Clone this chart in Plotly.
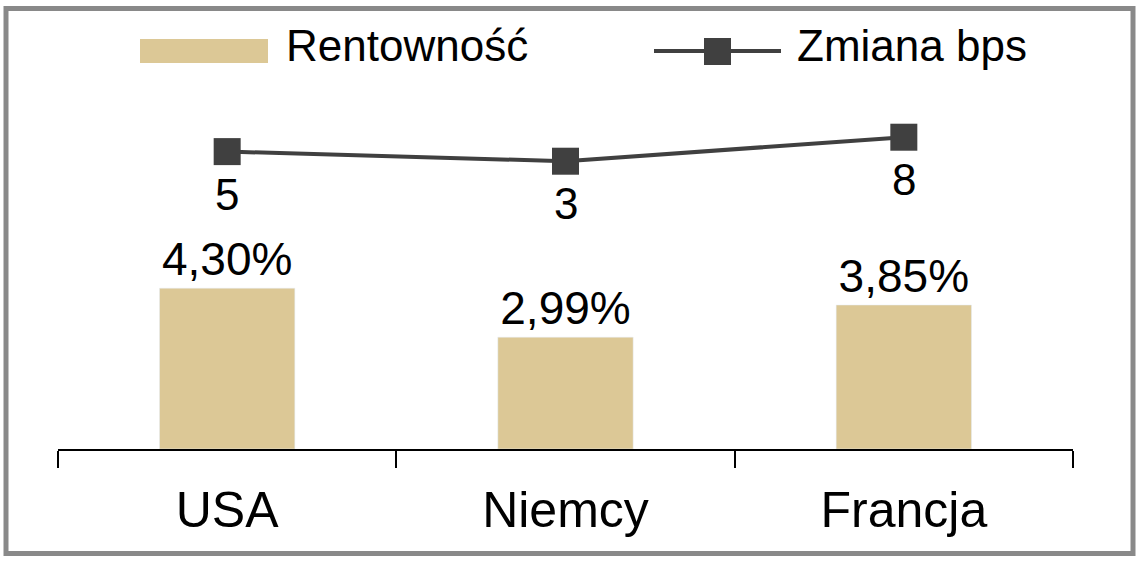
import plotly.graph_objects as go

# data
countries = ["USA", "Niemcy", "Francja"]
yields = [4.30, 2.99, 3.85]
yield_labels = ["4,30%", "2,99%", "3,85%"]
bps_change = [5, 3, 8]

W, H = 1141, 562
# plot area in pixels
L, R, T, B = 58, 1073, 20, 449
FONT = "Liberation Sans, Arial, sans-serif"
BAR_COLOR = "#DCC896"
LINE_COLOR = "#404040"


def px_x(p):
    return (p - L) / (R - L)


def px_y(p):
    return (B - p) / (B - T)


fig = go.Figure()

fig.add_trace(go.Bar(
    x=countries,
    y=yields,
    name="Rentowność",
    marker_color=BAR_COLOR,
    width=0.40,
    text=yield_labels,
    textposition="outside",
    textfont=dict(size=46, color="black", family=FONT),
    cliponaxis=False,
    showlegend=False,
))

fig.add_trace(go.Scatter(
    x=countries,
    y=bps_change,
    name="Zmiana bps",
    yaxis="y2",
    mode="lines+markers",
    line=dict(color=LINE_COLOR, width=4),
    marker=dict(symbol="square", size=27, color=LINE_COLOR),
    cliponaxis=False,
    showlegend=False,
))

# labels under the line markers
annotations = []
for c, v in zip(countries, bps_change):
    annotations.append(dict(
        x=c, y=v, xref="x", yref="y2", text=str(v),
        xanchor="center", yanchor="top", yshift=-16,
        showarrow=False, font=dict(size=44, color="black", family=FONT),
    ))

# hand-drawn legend (plotly's legend symbols are too small)
shapes = [
    # bar swatch
    dict(type="rect", xref="paper", yref="paper",
         x0=px_x(140), x1=px_x(268), y0=px_y(39), y1=px_y(63),
         fillcolor=BAR_COLOR, line_width=0),
    # line sample
    dict(type="line", xref="paper", yref="paper",
         x0=px_x(654), x1=px_x(781), y0=px_y(51), y1=px_y(51),
         line=dict(color=LINE_COLOR, width=4)),
    dict(type="rect", xref="paper", yref="paper",
         x0=px_x(704), x1=px_x(731), y0=px_y(38), y1=px_y(65),
         fillcolor=LINE_COLOR, line_width=0),
    # grey frame round the chart
    dict(type="rect", xref="paper", yref="paper",
         x0=px_x(6), x1=px_x(1133), y0=px_y(8.5), y1=px_y(553.5),
         line=dict(color="#898989", width=5), fillcolor="rgba(0,0,0,0)"),
]

annotations += [
    dict(text="Rentowność", xref="paper", yref="paper",
         x=px_x(284), y=px_y(45), xanchor="left", yanchor="middle",
         showarrow=False, font=dict(size=44, color="black", family=FONT)),
    dict(text="Zmiana bps", xref="paper", yref="paper",
         x=px_x(795), y=px_y(45), xanchor="left", yanchor="middle",
         showarrow=False, font=dict(size=44, color="black", family=FONT)),
]

fig.update_layout(
    width=W, height=H,
    margin=dict(l=L, r=W - R, t=T, b=H - B, pad=0),
    paper_bgcolor="white",
    plot_bgcolor="white",
    font=dict(family=FONT, color="black"),
    showlegend=False,
    shapes=shapes,
    annotations=annotations,
    xaxis=dict(
        showline=True, linecolor="black", linewidth=2,
        ticks="outside", tickson="boundaries", ticklen=17,
        tickwidth=2, tickcolor="black", ticklabelstandoff=16,
        tickfont=dict(size=50, color="black", family=FONT),
        showgrid=False,
    ),
    yaxis=dict(range=[0, 11.47], visible=False, showgrid=False),
    yaxis2=dict(range=[-56.96, 32.42], overlaying="y", side="right",
                visible=False, showgrid=False),
)

# drop the page's default 8px body margin so the figure sits at 0,0
fig.write_html("out.html", config={"displayModeBar": False},
               post_script="document.body.style.margin='0';")
